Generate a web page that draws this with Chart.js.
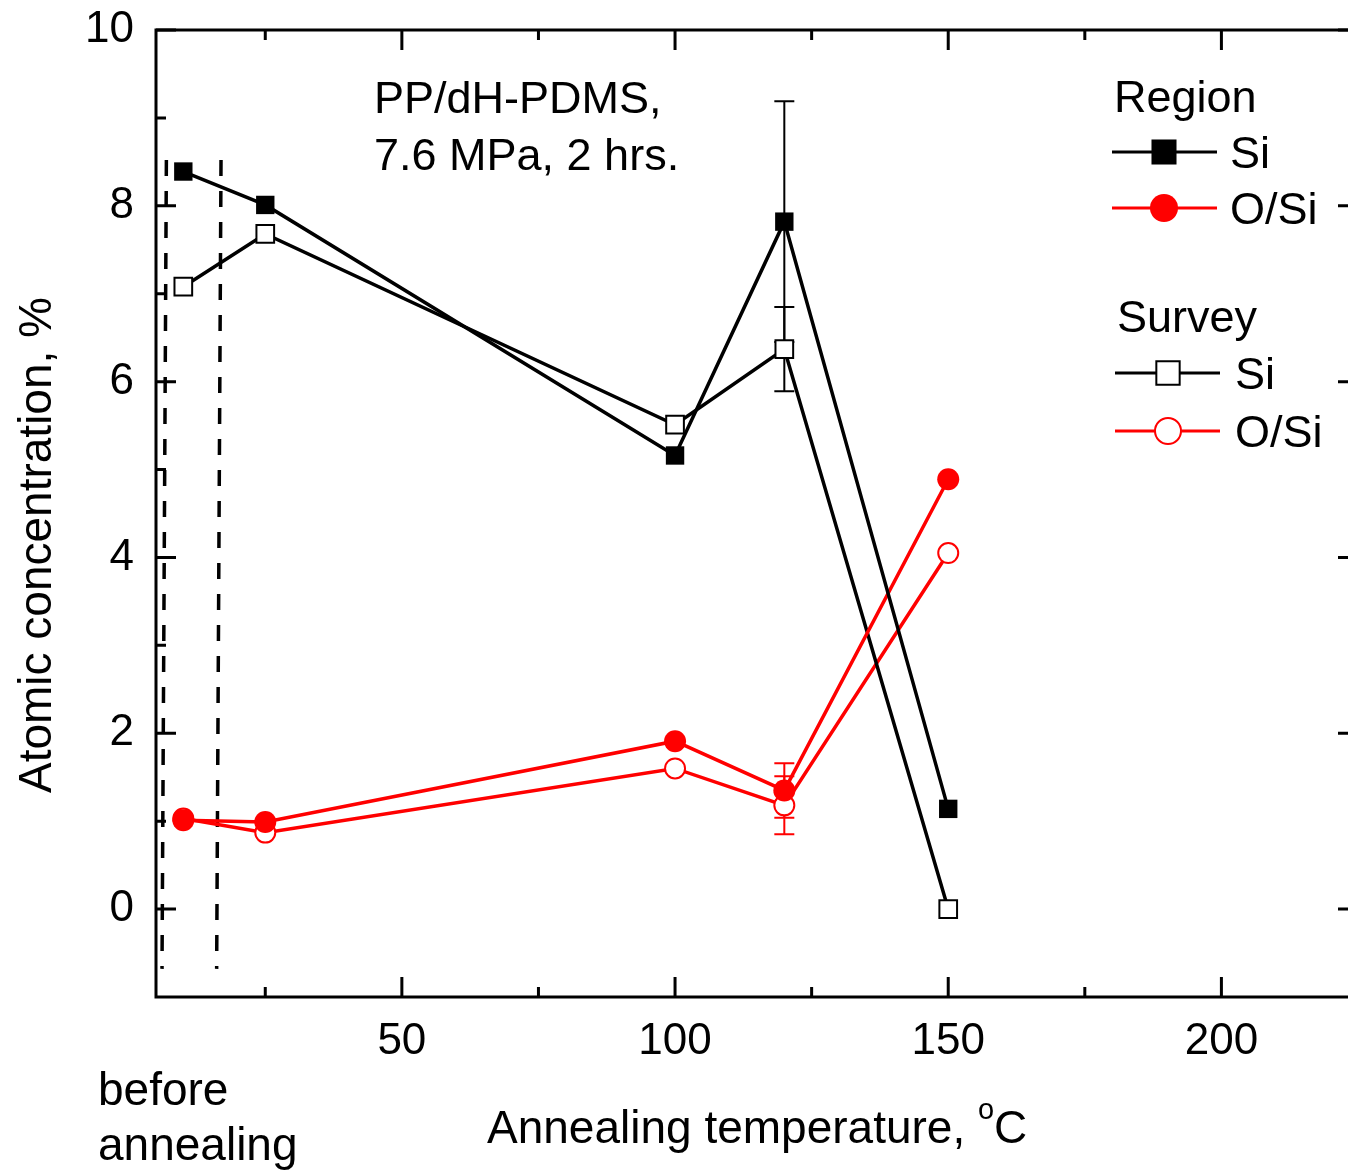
<!DOCTYPE html>
<html>
<head>
<meta charset="utf-8">
<script src="https://cdn.jsdelivr.net/npm/chart.js@4.4.1/dist/chart.umd.min.js"></script>
<style>
    html, body { margin: 0; padding: 0; background: #fff; overflow: hidden; }
    #wrap { position: relative; width: 1380px; height: 1173px; }
</style>
</head>
<body>
<div id="wrap"><canvas id="chart"></canvas></div>
<script>
// Data
const temps = [10, 25, 100, 120, 150];
const regionSi = [8.39, 8.01, 5.16, 7.82, 1.14];
const surveySi = [7.08, 7.68, 5.51, 6.37, 0.0];
const regionOSi = [1.01, 0.99, 1.91, 1.35, 4.89];
const surveyOSi = [1.03, 0.87, 1.60, 1.18, 4.05];

// error bars (only the 120 C point has them)
const regionSiErr = [null, null, null, 1.37, null];
const surveySiErr = [null, null, null, 0.48, null];
const regionOSiErr = [null, null, null, 0.31, null];
const surveyOSiErr = [null, null, null, 0.33, null];

// dashed guides around the "before annealing" point
const guideLeft = [[6.9, 8.52], [6.1, -0.68]];
const guideRight = [[16.9, 8.52], [16.1, -0.68]];

const xTicks = [50, 100, 150, 200];
const xMinor = [25, 75, 125, 175];
const yTicks = [0, 2, 4, 6, 8, 10];
const yMinor = [1, 3, 5, 7, 9];

const FONT = '"Liberation Sans", Arial, sans-serif';
const RED = '#ff0000';

function pts(ys) {
    return temps.map((t, i) => ({ x: t, y: ys[i] }));
}

const datasets = [
    {
        label: 'Region Si', data: pts(regionSi), errors: regionSiErr,
        borderColor: '#000', backgroundColor: '#000', borderWidth: 3.5,
        pointStyle: 'rect', pointRadius: 13, pointBorderWidth: 0,
        group: 'Region', name: 'Si'
    },
    {
        label: 'Region O/Si', data: pts(regionOSi), errors: regionOSiErr,
        borderColor: RED, backgroundColor: RED, borderWidth: 3.5,
        pointStyle: 'circle', pointRadius: 11, pointBorderWidth: 0,
        group: 'Region', name: 'O/Si'
    },
    {
        label: 'Survey Si', data: pts(surveySi), errors: surveySiErr,
        borderColor: '#000', backgroundColor: '#fff', borderWidth: 3.5,
        pointStyle: 'rect', pointRadius: 12.5, pointBorderWidth: 2,
        pointBorderColor: '#000', pointBackgroundColor: '#fff',
        group: 'Survey', name: 'Si'
    },
    {
        label: 'Survey O/Si', data: pts(surveyOSi), errors: surveyOSiErr,
        borderColor: RED, backgroundColor: '#fff', borderWidth: 3.5,
        pointStyle: 'circle', pointRadius: 10, pointBorderWidth: 2,
        pointBorderColor: RED, pointBackgroundColor: '#fff',
        group: 'Survey', name: 'O/Si'
    },
    {
        label: 'guide1', data: guideLeft.map(p => ({ x: p[0], y: p[1] })),
        borderColor: '#000', borderWidth: 3.5, borderDash: [16, 15], pointRadius: 0
    },
    {
        label: 'guide2', data: guideRight.map(p => ({ x: p[0], y: p[1] })),
        borderColor: '#000', borderWidth: 3.5, borderDash: [16, 15], pointRadius: 0
    }
];

function drawMarker(ctx, ds, x, y, r) {
    ctx.save();
    ctx.fillStyle = ds.pointBackgroundColor || ds.backgroundColor;
    ctx.strokeStyle = ds.pointBorderColor || ds.borderColor;
    ctx.lineWidth = ds.pointBorderWidth;
    Chart.helpers.drawPoint(ctx, {
        pointStyle: ds.pointStyle, radius: r, rotation: 0, borderWidth: ds.pointBorderWidth
    }, x, y);
    ctx.restore();
}

const decor = {
    id: 'decor',
    beforeDatasetsDraw(chart) {
        // error bars
        const ctx = chart.ctx;
        const xs = chart.scales.x, ys = chart.scales.y;
        ctx.save();
        chart.data.datasets.forEach(ds => {
            if (!ds.errors) return;
            ds.errors.forEach((e, i) => {
                if (e == null) return;
                const px = xs.getPixelForValue(ds.data[i].x);
                const top = ys.getPixelForValue(ds.data[i].y + e);
                const bot = ys.getPixelForValue(ds.data[i].y - e);
                ctx.strokeStyle = ds.borderColor;
                ctx.lineWidth = 2;
                ctx.beginPath();
                ctx.moveTo(px, top); ctx.lineTo(px, bot);
                ctx.moveTo(px - 10, top); ctx.lineTo(px + 10, top);
                ctx.moveTo(px - 10, bot); ctx.lineTo(px + 10, bot);
                ctx.stroke();
            });
        });
        ctx.restore();
    },
    afterDraw(chart) {
        const ctx = chart.ctx;
        const a = chart.chartArea;
        const xs = chart.scales.x, ys = chart.scales.y;
        ctx.save();
        ctx.strokeStyle = '#000';
        ctx.lineWidth = 3;
        ctx.strokeRect(a.left, a.top, a.right - a.left, a.bottom - a.top);

        // inward ticks on all four sides
        ctx.beginPath();
        const xt = (v, len) => {
            const p = xs.getPixelForValue(v);
            ctx.moveTo(p, a.bottom); ctx.lineTo(p, a.bottom - len);
            ctx.moveTo(p, a.top); ctx.lineTo(p, a.top + len);
        };
        const yt = (v, len) => {
            const p = ys.getPixelForValue(v);
            ctx.moveTo(a.left, p); ctx.lineTo(a.left + len, p);
            ctx.moveTo(a.right, p); ctx.lineTo(a.right - len, p);
        };
        xTicks.forEach(v => xt(v, 20));
        xMinor.forEach(v => xt(v, 10));
        yTicks.forEach(v => yt(v, 20));
        yMinor.forEach(v => yt(v, 10));
        ctx.stroke();

        ctx.fillStyle = '#000';
        ctx.textBaseline = 'alphabetic';
        ctx.textAlign = 'left';

        // annotation
        ctx.font = '45px ' + FONT;
        ctx.fillText('PP/dH-PDMS,', 374, 113);
        ctx.fillText('7.6 MPa, 2 hrs.', 374, 170);

        // legend
        const groups = [
            { title: 'Region', tx: 1114, ty: 112, rows: [[0, 152], [1, 208]], x0: 1112, x1: 1217, mx: 1164, lx: 1230, r: [17.7, 14] },
            { title: 'Survey', tx: 1117, ty: 332, rows: [[2, 373], [3, 431]], x0: 1115, x1: 1220, mx: 1168, lx: 1235, r: [16.5, 13] }
        ];
        groups.forEach(g => {
            ctx.fillStyle = '#000';
            ctx.font = '45px ' + FONT;
            ctx.fillText(g.title, g.tx, g.ty);
            g.rows.forEach((row, k) => {
                const ds = chart.data.datasets[row[0]];
                const y = row[1];
                ctx.strokeStyle = ds.borderColor;
                ctx.lineWidth = 3;
                ctx.beginPath();
                ctx.moveTo(g.x0, y); ctx.lineTo(g.x1, y);
                ctx.stroke();
                drawMarker(ctx, ds, g.mx, y, g.r[k]);
                ctx.fillStyle = '#000';
                ctx.fillText(ds.name, g.lx, y + 16);
            });
        });

        // axis titles
        ctx.font = '46px ' + FONT;
        ctx.fillText('before', 98, 1105);
        ctx.fillText('annealing', 98, 1160);

        const t1 = 'Annealing temperature, ';
        ctx.fillText(t1, 487, 1143);
        let w = ctx.measureText(t1).width;
        ctx.font = '29px ' + FONT;
        ctx.fillText('o', 487 + w, 1119);
        w += ctx.measureText('o').width;
        ctx.font = '46px ' + FONT;
        ctx.fillText('C', 487 + w, 1143);

        ctx.save();
        ctx.translate(51, 545);
        ctx.rotate(-Math.PI / 2);
        ctx.textAlign = 'center';
        ctx.fillText('Atomic concentration, %', 0, 0);
        ctx.restore();

        ctx.restore();
    }
};

new Chart(document.getElementById('chart'), {
    type: 'scatter',
    data: { datasets: datasets },
    options: {
        responsive: true,
        maintainAspectRatio: false,
        animation: false,
        layout: { padding: { top: 30, right: 22, left: 0, bottom: 0 } },
        datasets: { scatter: { showLine: true } },
        plugins: { legend: { display: false }, tooltip: { enabled: false } },
        scales: {
            x: {
                type: 'linear', min: 5, max: 225,
                afterBuildTicks: s => { s.ticks = xTicks.map(v => ({ value: v })); },
                afterFit: s => { s.height = 176; s.paddingLeft = 0; s.paddingRight = 0; },
                grid: { display: false, drawTicks: false },
                border: { display: false },
                ticks: { color: '#000', font: { family: FONT, size: 44 }, padding: 18, maxRotation: 0, autoSkip: false }
            },
            y: {
                type: 'linear', min: -1, max: 10,
                afterBuildTicks: s => { s.ticks = yTicks.map(v => ({ value: v })); },
                afterFit: s => { s.width = 156; s.paddingTop = 0; s.paddingBottom = 0; },
                grid: { display: false, drawTicks: false },
                border: { display: false },
                ticks: { color: '#000', font: { family: FONT, size: 44 }, padding: 22, autoSkip: false }
            }
        }
    },
    plugins: [decor]
});
</script>
</body>
</html>
